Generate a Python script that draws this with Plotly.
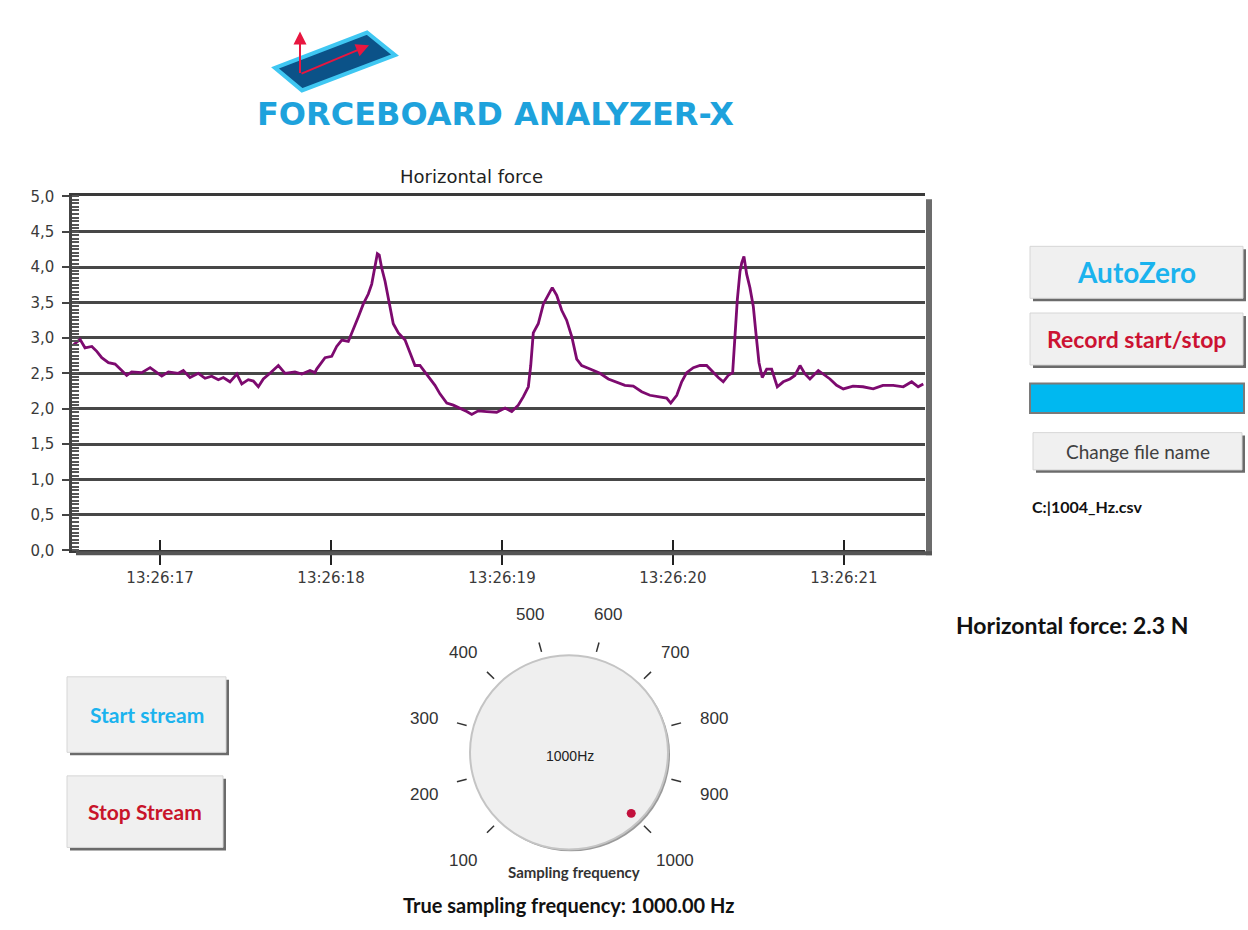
import math
from datetime import datetime, timedelta
import plotly.graph_objects as go

W, H = 1248, 930

# ---------------- data ----------------
# seconds after 13:26:16
t_sec = [0.493, 0.532, 0.561, 0.601, 0.630, 0.659, 0.698, 0.737, 0.776, 0.805,
         0.834, 0.893, 0.942, 0.981, 1.010, 1.049, 1.107, 1.136, 1.175, 1.224,
         1.263, 1.302, 1.341, 1.370, 1.409, 1.449, 1.478, 1.516, 1.546, 1.575,
         1.604, 1.643, 1.692, 1.731, 1.789, 1.829, 1.877, 1.906, 1.916, 1.965,
         2.004, 2.033, 2.063, 2.101, 2.130, 2.160, 2.189, 2.218, 2.238, 2.257,
         2.271, 2.282, 2.296, 2.316, 2.335, 2.364, 2.394, 2.433, 2.462, 2.491,
         2.520, 2.550, 2.579, 2.608, 2.637, 2.677, 2.715, 2.754, 2.794, 2.823,
         2.861, 2.911, 2.969, 3.018, 3.057, 3.095, 3.125, 3.154, 3.168, 3.183,
         3.212, 3.242, 3.271, 3.294, 3.320, 3.349, 3.378, 3.408, 3.437, 3.466,
         3.515, 3.573, 3.622, 3.671, 3.719, 3.768, 3.817, 3.865, 3.914, 3.963,
         3.987, 4.022, 4.051, 4.080, 4.119, 4.158, 4.197, 4.236, 4.265, 4.294,
         4.323, 4.349, 4.363, 4.376, 4.392, 4.402, 4.415, 4.431, 4.450, 4.470,
         4.485, 4.503, 4.522, 4.548, 4.577, 4.610, 4.645, 4.684, 4.713, 4.743,
         4.772, 4.801, 4.850, 4.879, 4.918, 4.957, 4.996, 5.053, 5.111, 5.171,
         5.228, 5.288, 5.347, 5.396, 5.434, 5.464]
force_n = [2.90, 2.98, 2.86, 2.88, 2.81, 2.72, 2.65, 2.63, 2.54, 2.47,
           2.52, 2.51, 2.58, 2.51, 2.46, 2.52, 2.50, 2.54, 2.44, 2.50,
           2.43, 2.46, 2.41, 2.44, 2.38, 2.49, 2.35, 2.41, 2.39, 2.31,
           2.42, 2.50, 2.61, 2.50, 2.52, 2.49, 2.54, 2.51, 2.56, 2.72,
           2.74, 2.88, 2.97, 2.95, 3.11, 3.30, 3.48, 3.62, 3.76, 3.99,
           4.19, 4.17, 3.99, 3.80, 3.57, 3.20, 3.07, 2.97, 2.79, 2.61,
           2.61, 2.51, 2.42, 2.33, 2.21, 2.08, 2.05, 2.01, 1.96, 1.92,
           1.97, 1.96, 1.95, 2.01, 1.96, 2.05, 2.17, 2.31, 2.61, 3.07,
           3.20, 3.48, 3.62, 3.71, 3.60, 3.39, 3.25, 3.02, 2.70, 2.61,
           2.56, 2.50, 2.42, 2.38, 2.33, 2.32, 2.24, 2.19, 2.17, 2.15,
           2.08, 2.19, 2.38, 2.51, 2.58, 2.61, 2.61, 2.51, 2.44, 2.38,
           2.47, 2.51, 3.11, 3.53, 3.94, 4.06, 4.15, 3.90, 3.71, 3.44,
           3.07, 2.65, 2.44, 2.56, 2.56, 2.31, 2.38, 2.42, 2.47, 2.61,
           2.49, 2.42, 2.54, 2.49, 2.42, 2.33, 2.28, 2.32, 2.31, 2.28,
           2.33, 2.33, 2.31, 2.38, 2.31, 2.35]

x_range_sec = [0.485, 5.474]
y_range = [0.0, 5.0]

knob_values = [100, 200, 300, 400, 500, 600, 700, 800, 900, 1000]
knob_selected = 1000
current_force = 2.3
true_fs = 1000.00
file_name = "C:|1004_Hz.csv"

# ---------------- helpers ----------------
def X(x):
    return x / W


def Y(y):
    return 1 - y / H


base = datetime(2024, 1, 1, 13, 26, 16)
times = [base + timedelta(seconds=s) for s in t_sec]
x_range = [base + timedelta(seconds=s) for s in x_range_sec]

CAL = "Lato, 'Open Sans', sans-serif"
AXF = "DejaVu Sans, Verdana, sans-serif"

fig = go.Figure()
fig.add_trace(go.Scatter(
    x=times, y=force_n, mode="lines",
    line=dict(color="#7d0a6f", width=2.8),
    hoverinfo="skip", showlegend=False,
))
# invisible trace for secondary overlay axis (inside ticks)
fig.add_trace(go.Scatter(x=[x_range[0]], y=[0], xaxis="x2", mode="markers",
                         marker=dict(opacity=0), showlegend=False, hoverinfo="skip"))

shapes = []
annots = []

# chart right shadow
shapes.append(dict(type="rect", xref="paper", yref="paper",
                   x0=X(926), x1=X(932), y0=Y(557), y1=Y(194),
                   fillcolor="#6c6c6c", line=dict(width=0)))
# bottom shadow
shapes.append(dict(type="rect", xref="paper", yref="paper",
                   x0=X(76), x1=X(932), y0=Y(557), y1=Y(553),
                   fillcolor="#555555", line=dict(width=0)))

# title
annots.append(dict(text="Horizontal force", x=X(471), y=Y(171), xref="paper", yref="paper",
                   showarrow=False, font=dict(family=AXF, size=18, color="#222222"),
                   xanchor="center", yanchor="middle"))

# ---------------- logo ----------------
logo_pts = [(275, 60), (367, 24), (395, 47), (302, 83)]
path = "M " + " L ".join(f"{X(a):.5f},{Y(b):.5f}" for a, b in logo_pts) + " Z"
shapes.append(dict(type="path", xref="paper", yref="paper", path=path,
                   fillcolor="#0b5288", line=dict(color="#3fc7f2", width=4)))
annots.append(dict(x=X(300), y=Y(23), xref="paper", yref="paper", ax=0, ay=43,
                   showarrow=True, arrowhead=2, arrowsize=1.3, arrowwidth=2,
                   arrowcolor="#e8163f", text=""))
annots.append(dict(x=X(369), y=Y(37), xref="paper", yref="paper", ax=-69, ay=29,
                   showarrow=True, arrowhead=2, arrowsize=1.3, arrowwidth=2,
                   arrowcolor="#e8163f", text=""))
annots.append(dict(text="<b>FORCEBOARD ANALYZER-X</b>", x=X(495), y=Y(107),
                   xref="paper", yref="paper", showarrow=False,
                   font=dict(family="DejaVu Sans, sans-serif", size=32, color="#1ea2dc"),
                   xanchor="center", yanchor="middle"))


# ---------------- buttons ----------------
def button(x0, y0, x1, y1, label, color, size, bold=True):
    shapes.append(dict(type="rect", xref="paper", yref="paper",
                       x0=X(x0 + 3), x1=X(x1 + 3), y0=Y(y1 + 3), y1=Y(y0 + 3),
                       fillcolor="#6b6b6b", line=dict(width=0)))
    shapes.append(dict(type="rect", xref="paper", yref="paper",
                       x0=X(x0), x1=X(x1), y0=Y(y1), y1=Y(y0),
                       fillcolor="#f0f0f0", line=dict(color="#d6d6d6", width=1)))
    txt = f"<b>{label}</b>" if bold else label
    annots.append(dict(text=txt, x=X((x0 + x1) / 2), y=Y((y0 + y1) / 2),
                       xref="paper", yref="paper", showarrow=False,
                       font=dict(family=CAL, size=size, color=color),
                       xanchor="center", yanchor="middle"))


button(1030, 242, 1243, 295, "AutoZero", "#1bb3ee", 28)
button(1030, 310, 1243, 363, "Record start/stop", "#cc1232", 23)
button(1033, 432, 1242, 470, "Change file name", "#404040", 19, bold=False)
button(67, 681, 226, 758, "Start stream", "#1bb3ee", 21)
button(67, 782, 223, 855, "Stop Stream", "#c8142a", 21)

# blue progress bar
shapes.append(dict(type="rect", xref="paper", yref="paper",
                   x0=X(1030), x1=X(1244), y0=Y(412), y1=Y(382),
                   fillcolor="#00b8f0", line=dict(color="#7a7a7a", width=2)))

annots.append(dict(text=f"<b>{file_name}</b>", x=X(1030), y=Y(507), xref="paper", yref="paper",
                   showarrow=False, font=dict(family=CAL, size=16, color="#111111"),
                   xanchor="left", yanchor="middle"))
annots.append(dict(text=f"<b>Horizontal force: {current_force:.1f} N</b>", x=X(954), y=Y(628),
                   xref="paper", yref="paper", showarrow=False,
                   font=dict(family=CAL, size=23, color="#111111"),
                   xanchor="left", yanchor="middle"))

# ---------------- knob ----------------
cx, cy, r = 569, 758, 99
shapes.append(dict(type="circle", xref="paper", yref="paper",
                   x0=X(cx - r + 2), x1=X(cx + r + 2), y0=Y(cy + r + 2), y1=Y(cy - r + 2),
                   fillcolor="#9a9a9a", line=dict(width=0)))
shapes.append(dict(type="circle", xref="paper", yref="paper",
                   x0=X(cx - r), x1=X(cx + r), y0=Y(cy + r), y1=Y(cy - r),
                   fillcolor="#efefef", line=dict(color="#c4c4c4", width=2)))
vmin, vmax = knob_values[0], knob_values[-1]
for v in knob_values:
    ang = math.radians(225 - (v - vmin) / (vmax - vmin) * 270)
    c, s = math.cos(ang), math.sin(ang)
    shapes.append(dict(type="line", xref="paper", yref="paper",
                       x0=X(cx + 106 * c), y0=Y(cy - 106 * s),
                       x1=X(cx + 116 * c), y1=Y(cy - 116 * s),
                       line=dict(color="#333333", width=1.5)))
    annots.append(dict(text=str(v), x=X(cx + 150 * c), y=Y(cy - 150 * s + 4),
                       xref="paper", yref="paper", showarrow=False,
                       font=dict(family="Liberation Sans, Arial, sans-serif", size=17, color="#333333"),
                       xanchor="center", yanchor="middle"))
# selected-value dot on the knob
ang_sel = math.radians(225 - (knob_selected - vmin) / (vmax - vmin) * 270)
dx, dy = cx + 88 * math.cos(ang_sel), cy - 88 * math.sin(ang_sel)
shapes.append(dict(type="circle", xref="paper", yref="paper",
                   x0=X(dx - 4.5), x1=X(dx + 4.5), y0=Y(dy + 4.5), y1=Y(dy - 4.5),
                   fillcolor="#c2103c", line=dict(width=0)))
annots.append(dict(text=f"{knob_selected}Hz", x=X(cx + 1), y=Y(762), xref="paper", yref="paper",
                   showarrow=False, font=dict(family="Liberation Sans, Arial, sans-serif", size=14, color="#222222"),
                   xanchor="center", yanchor="middle"))
annots.append(dict(text="<b>Sampling frequency</b>", x=X(574), y=Y(880), xref="paper", yref="paper",
                   showarrow=False, font=dict(family=CAL, size=15, color="#333333"),
                   xanchor="center", yanchor="middle"))
annots.append(dict(text=f"<b>True sampling frequency: {true_fs:.2f} Hz</b>", x=X(568), y=Y(914),
                   xref="paper", yref="paper", showarrow=False,
                   font=dict(family=CAL, size=20, color="#111111"),
                   xanchor="center", yanchor="middle"))

# ---------------- layout ----------------
xdom = [X(72), X(925)]
ydom = [Y(552), Y(191)]

fig.update_layout(
    width=W, height=H, autosize=False,
    margin=dict(l=0, r=0, t=0, b=0),
    paper_bgcolor="white", plot_bgcolor="white",
    separators=",.",
    showlegend=False,
    xaxis=dict(domain=xdom, type="date", range=x_range, tick0=base, dtick=1000,
               tickformat="%H:%M:%S", ticks="outside", ticklen=12, tickwidth=2,
               tickcolor="#222222", showgrid=False, showline=True, linecolor="#3a3a3a",
               linewidth=3, mirror=True, zeroline=False, anchor="y",
               tickfont=dict(family=AXF, size=15, color="#3a3a3a")),
    xaxis2=dict(overlaying="x", type="date", range=x_range, tick0=base, dtick=1000,
                ticks="inside", ticklen=10, tickwidth=2, tickcolor="#222222",
                showticklabels=False, showgrid=False, showline=False, anchor="y",
                side="bottom"),
    yaxis=dict(domain=ydom, range=y_range, dtick=0.5, tickformat=".1f",
               ticks="outside", ticklen=7, tickwidth=2, tickcolor="#444444",
               showgrid=True, gridcolor="#474747", gridwidth=2.5,
               showline=True, linecolor="#444444", linewidth=2.5, zeroline=False,
               ticklabelstandoff=5,
               minor=dict(ticks="inside", dtick=0.05, ticklen=7, tickwidth=1.5,
                          tickcolor="#555555", showgrid=False),
               tickfont=dict(family=AXF, size=15, color="#3a3a3a")),
    shapes=shapes,
    annotations=annots,
)

fig.write_html("out.html", config={"displayModeBar": False},
               post_script="document.body.style.margin='0';document.body.style.overflow='hidden';")
